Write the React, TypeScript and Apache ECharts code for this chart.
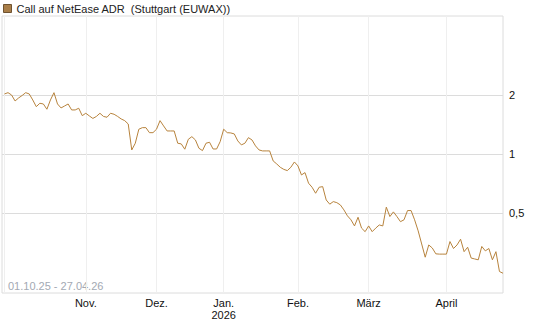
import React, { useEffect, useRef } from "react";
import * as echarts from "echarts";

// Trading days shown (Stuttgart EUWAX), 01.10.25 - 27.04.26
const startDate = "2025-10-01";
const endDate = "2026-04-27";
const holidays = ["2025-12-24", "2025-12-25", "2025-12-26", "2025-12-31", "2026-01-01", "2026-04-03", "2026-04-06"];

const seriesName = "Call auf NetEase ADR  (Stuttgart (EUWAX))";
const rangeLabel = "01.10.25 - 27.04.26";

// closing prices (EUR), one per trading day
const prices = [
  2.024, 2.055, 2.0, 1.864, 1.931, 1.988, 2.055, 2.024, 1.886, 1.743,
  1.814, 1.799, 1.691, 1.886, 2.055, 1.799, 1.717, 1.757, 1.799, 1.677,
  1.677, 1.711, 1.568, 1.613, 1.563, 1.518, 1.554, 1.613, 1.554, 1.539,
  1.613, 1.594, 1.554, 1.509, 1.479, 1.422, 1.048, 1.134, 1.337, 1.362,
  1.362, 1.284, 1.284, 1.337, 1.479, 1.39, 1.31, 1.31, 1.31, 1.134,
  1.125, 1.057, 1.188, 1.225, 1.179, 1.069, 1.04, 1.134, 1.147, 1.06,
  1.06, 1.155, 1.337, 1.284, 1.28, 1.265, 1.165, 1.112, 1.134, 1.211,
  1.179, 1.099, 1.048, 1.036, 1.036, 1.036, 0.921, 0.889, 0.855, 0.834,
  0.822, 0.855, 0.91, 0.869, 0.781, 0.803, 0.709, 0.676, 0.63, 0.676,
  0.681, 0.582, 0.554, 0.571, 0.564, 0.549, 0.518, 0.483, 0.461, 0.429,
  0.475, 0.418, 0.401, 0.429, 0.401, 0.418, 0.434, 0.429, 0.535, 0.479,
  0.506, 0.479, 0.451, 0.461, 0.514, 0.514, 0.461, 0.405, 0.347, 0.297,
  0.343, 0.331, 0.309, 0.308, 0.308, 0.308, 0.357, 0.329, 0.343, 0.367,
  0.317, 0.334, 0.294, 0.291, 0.288, 0.337, 0.32, 0.329, 0.288, 0.317,
  0.251, 0.246,
];

const monthNames = ["Jan.", "Feb.", "März", "April", "Mai", "Juni", "Juli", "Aug.", "Sep.", "Okt.", "Nov.", "Dez."];
const yTicks = [0.5, 1, 2];
const yMin = 0.195;
const yMax = 5.06;

function pad(n: number) {
  return n < 10 ? "0" + n : "" + n;
}

function buildTradingDays(): string[] {
  const out: string[] = [];
  const d = new Date(startDate + "T12:00:00Z");
  const end = new Date(endDate + "T12:00:00Z");
  while (d <= end) {
    const wd = d.getUTCDay();
    const s = d.getUTCFullYear() + "-" + pad(d.getUTCMonth() + 1) + "-" + pad(d.getUTCDate());
    if (wd !== 0 && wd !== 6 && holidays.indexOf(s) < 0) out.push(s);
    d.setUTCDate(d.getUTCDate() + 1);
  }
  return out;
}

const tradingDays = buildTradingDays();

export default function App() {
  const ref = useRef<HTMLDivElement>(null);

  useEffect(() => {
    if (!ref.current) return;
    const chart = echarts.init(ref.current, undefined, { renderer: "svg" });

    const monthStarts: number[] = [];
    const monthLabel: Record<number, string> = {};
    tradingDays.forEach((s, i) => {
      const m = s.slice(0, 7);
      if (i === 0 || tradingDays[i - 1].slice(0, 7) !== m) {
        monthStarts.push(i);
        const mi = parseInt(s.slice(5, 7), 10) - 1;
        let lab = monthNames[mi];
        if (mi === 0) lab += "\n" + s.slice(0, 4);
        monthLabel[i] = lab;
      }
    });
    const lastIdx = prices.length - 1;

    const font = "'Liberation Sans', Arial, sans-serif";

    chart.setOption({
      animation: false,
      backgroundColor: "#ffffff",
      grid: {
        left: 2,
        top: 16,
        width: 501,
        height: 277,
        show: true,
        borderColor: "#dcdcdc",
        borderWidth: 1,
        backgroundColor: "transparent",
        containLabel: false,
      },
      legend: {
        show: true,
        left: 3,
        top: 3,
        padding: 0,
        itemWidth: 8,
        itemHeight: 8,
        itemGap: 5,
        icon: "rect",
        data: [
          {
            name: seriesName,
            itemStyle: { color: "#a97e48", borderColor: "#6f5331", borderWidth: 1 },
          },
        ],
        textStyle: { fontSize: 11, color: "#222", fontFamily: font, padding: [0, 0, 0, 0] },
        selectedMode: false,
      },
      xAxis: {
        type: "value",
        min: -0.7,
        max: lastIdx,
        axisLine: { show: false },
        axisTick: { show: false, customValues: monthStarts },
        axisLabel: {
          customValues: monthStarts.filter((v) => v > 0),
          formatter: (v: number) => monthLabel[Math.round(v)] || "",
          fontSize: 11,
          fontFamily: font,
          color: "#111",
          margin: 4,
          lineHeight: 12,
          showMinLabel: true,
          showMaxLabel: true,
        },
        splitLine: { show: true, lineStyle: { color: "#efefef", width: 1 } },
      },
      yAxis: {
        type: "log",
        logBase: 2,
        min: yMin,
        max: yMax,
        position: "right",
        axisLine: { show: false },
        axisTick: { show: false, customValues: yTicks },
        axisLabel: {
          customValues: yTicks,
          formatter: (v: number) => String(v).replace(".", ","),
          fontSize: 11,
          fontFamily: font,
          color: "#111",
          margin: 6,
        },
        splitLine: { show: true, lineStyle: { color: "#dcdcdc", width: 1 } },
      },
      graphic: [
        {
          type: "text",
          left: 8,
          top: 280,
          style: { text: rangeLabel, fill: "#a3a9b3", font: "11px " + font },
        },
      ],
      series: [
        {
          name: seriesName,
          type: "line",
          data: prices.map((v, i) => [i, v]),
          showSymbol: false,
          symbol: "none",
          lineStyle: { color: "#b7833d", width: 1 },
          itemStyle: { color: "#b7833d" },
          emphasis: { disabled: true },
        },
      ],
    });

    return () => chart.dispose();
  }, []);

  return <div ref={ref} style={{ width: 545, height: 327, position: "absolute", left: 0, top: 0 }} />;
}
